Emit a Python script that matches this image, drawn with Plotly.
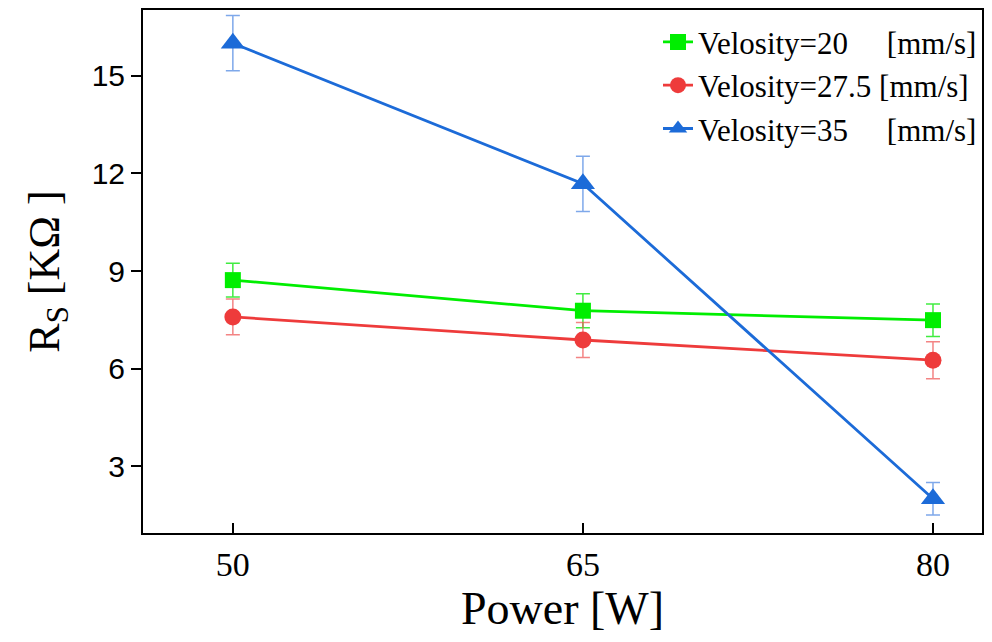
import plotly.graph_objects as go

power = [50, 65, 80]
v20 = [8.72, 7.78, 7.49]
v20_err = [0.52, 0.52, 0.50]
v275 = [7.59, 6.88, 6.26]
v275_err = [0.55, 0.54, 0.57]
v35 = [16.0, 11.68, 2.0]
v35_err = [0.85, 0.85, 0.50]

nb = "\u00a0"
names = [
    "Velosity=20" + nb * 5 + "[mm/s]",
    "Velosity=27.5 [mm/s]",
    "Velosity=35" + nb * 5 + "[mm/s]",
]

SERIF = "Liberation Serif, Times New Roman, serif"
SANS = "Liberation Sans, Arial, sans-serif"

series = [
    (v20, v20_err, "#00EE00", "rgba(0,230,0,0.75)", "square", 16),
    (v275, v275_err, "#EE3B3B", "rgba(238,80,80,0.7)", "circle", 17),
    (v35, v35_err, "#1C6BD8", "rgba(40,110,220,0.6)", "triangle-up", 21),
]

fig = go.Figure()
for name, (ys, es, col, ecol, sym, sz) in zip(names, series):
    fig.add_trace(go.Scatter(
        x=power, y=ys, name=name, mode="lines+markers",
        line=dict(color=col, width=2.8),
        marker=dict(symbol=sym, size=sz, color=col, line=dict(width=0)),
        error_y=dict(type="data", array=es, visible=True, color=ecol,
                     thickness=1.5, width=7),
    ))

fig.update_layout(
    width=992, height=642,
    margin=dict(l=143, r=8, t=8, b=109),
    paper_bgcolor="white", plot_bgcolor="white",
    showlegend=True,
    legend=dict(x=1, y=0.99, xanchor="right", yanchor="top",
                bgcolor="rgba(0,0,0,0)",
                font=dict(family=SERIF, size=31, color="black"),
                tracegroupgap=0, itemwidth=30),
    font=dict(family=SERIF, color="black"),
)
fig.update_xaxes(
    range=[46.15, 82.1], tickvals=power, ticktext=[str(p) for p in power],
    ticks="inside", ticklen=10, tickwidth=2, tickcolor="black",
    showline=True, linewidth=2, linecolor="black", mirror=True,
    showgrid=False, zeroline=False,
    tickfont=dict(family=SERIF, size=34, color="black"),
    title=dict(text="Power [W]", font=dict(family=SERIF, size=46, color="black"),
               standoff=10),
)
fig.update_yaxes(
    range=[0.95, 17.02], tickvals=[3, 6, 9, 12, 15],
    ticks="outside", ticklen=10, tickwidth=2, tickcolor="black",
    showline=True, linewidth=2, linecolor="black", mirror=True,
    showgrid=False, zeroline=False,
    tickfont=dict(family=SANS, size=30, color="black"),
    title=dict(text="R<sub>S</sub> [KΩ ]", font=dict(family=SERIF, size=44, color="black"),
               standoff=18),
)

fig.write_html("out.html")
